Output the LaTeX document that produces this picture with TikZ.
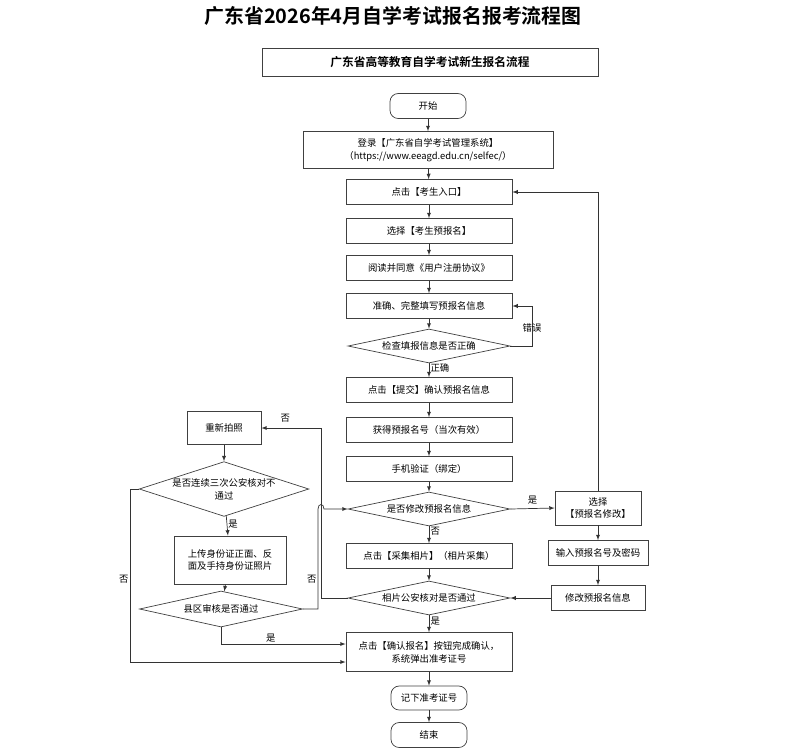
\documentclass[tikz,border=0pt]{standalone}
\usepackage{fontspec}
\setmainfont{Noto Sans CJK SC}
\newfontfamily\titlefont{Noto Sans CJK SC Bold}
\usetikzlibrary{shapes,arrows,positioning}

\tikzset{
    box/.style={draw=black!75, line width=0.6pt, minimum width=4.98cm, minimum height=0.75cm, inner sep=1pt, font=\fontsize{8}{11}\selectfont, align=center},
    term/.style={box, rounded corners=7pt, minimum width=2.28cm},
    decide/.style={draw=black!75, line width=0.6pt, diamond, aspect=4.8, inner sep=0pt, minimum width=4.86cm, minimum height=1.02cm, font=\fontsize{8}{11}\selectfont, align=center},
    flow/.style={-latex, line width=0.6pt, draw=black!80},
    lbl/.style={font=\fontsize{8}{10}\selectfont, inner sep=1pt}
}

\begin{document}
\begin{tikzpicture}[x=0.03cm, y=-0.03cm]
    \useasboundingbox (0,0) rectangle (786,750);

    % titles
    \node[font=\titlefont\fontsize{17}{20}\selectfont] (title) at (393,16) {广东省2026年4月自学考试报名报考流程图};
    \node[draw=black!75, line width=0.6pt, minimum width=10.08cm, minimum height=0.84cm, font=\titlefont\fontsize{10}{12}\selectfont] (head) at (430,62) {广东省高等教育自学考试新生报名流程};

    % main column
    \node[term] (start) at (428,106) {开始};
    \node[box, minimum width=7.5cm, minimum height=1.11cm] (login) at (428,150) {登录【广东省自学考试管理系统】\\（https://www.eeagd.edu.cn/selfec/）};
    \node[box] (entry) at (429,192) {点击【考生入口】};
    \node[box] (pre) at (429,231) {选择【考生预报名】};
    \node[box] (agree) at (429,268) {阅读并同意《用户注册协议》};
    \node[box] (fill) at (429,306) {准确、完整填写预报名信息};
    \node[decide] (check) at (429,346) {检查填报信息是否正确};
    \node[box] (submit) at (429,390) {点击【提交】确认预报名信息};
    \node[box] (getno) at (429,430) {获得预报名号（当次有效）};
    \node[box] (phone) at (429,469) {手机验证（绑定）};
    \node[decide] (modq) at (429,509) {是否修改预报名信息};
    \node[box] (photo) at (429,556) {点击【采集相片】（相片采集）};
    \node[decide] (police) at (429,598) {相片公安核对是否通过};
    \node[box, minimum height=1.17cm] (confirm) at (429,652) {点击【确认报名】按钮完成确认，\\系统弹出准考证号};
    \node[term, minimum height=0.72cm] (note) at (429,698) {记下准考证号};
    \node[term] (stop) at (429,735) {结束};

    % right column
    \node[box, minimum width=2.58cm, minimum height=1.02cm] (modsel) at (598,508) {选择\\【预报名修改】};
    \node[box, minimum width=3cm] (input) at (598,553) {输入预报名号及密码};
    \node[box, minimum width=2.82cm] (modify) at (598,598) {修改预报名信息};

    % left column
    \node[box, minimum width=2.22cm, minimum height=0.99cm] (retake) at (224,428) {重新拍照};
    \node[decide, aspect=3.1, minimum width=5.07cm, minimum height=1.62cm] (three) at (224,489) {是否连续三次公安核对不\\通过};
    \node[box, minimum width=3.36cm, minimum height=1.44cm] (upload) at (230,560) {上传身份证正面、反\\面及手持身份证照片};
    \node[decide, minimum width=4.89cm, minimum height=1.08cm] (county) at (221,609) {县区审核是否通过};

    % connectors, main column
    \draw[flow] (start) -- (login);
    \draw[flow] (login) -- (entry);
    \draw[flow] (entry) -- (pre);
    \draw[flow] (pre) -- (agree);
    \draw[flow] (agree) -- (fill);
    \draw[flow] (fill) -- (check);
    \draw[flow] (check) -- node[lbl, right, pos=0.35] {正确} (submit);
    \draw[flow] (check.east) -| (532,306) node[lbl, below=14pt] {错误} -- (fill.east);
    \draw[flow] (submit) -- (getno);
    \draw[flow] (getno) -- (phone);
    \draw[flow] (phone) -- (modq);
    \draw[flow] (modq) -- node[lbl, right, pos=0.3] {否} (photo);
    \draw[flow] (photo) -- (police);
    \draw[flow] (police) -- node[lbl, right, pos=0.35] {是} (confirm);
    \draw[flow] (confirm) -- (note);
    \draw[flow] (note) -- (stop);

    % right loop
    \draw[flow] (modq.east) -- node[lbl, above=2pt] {是} (modsel.west);
    \draw[flow] (modsel.north) |- (entry.east);
    \draw[flow] (modsel) -- (input);
    \draw[flow] (input) -- (modify);
    \draw[flow] (modify) -- (police.east);

    % left loop
    \draw[flow] (police.west) -| (321,428) -- node[lbl, above=4pt, pos=0.6] {否} (retake.east);
    \draw[flow] (retake) -- (three);
    \draw[flow] (three) -- node[lbl, right, pos=0.4] {是} (upload);
    \draw[flow] (upload) -- (county);
    \draw[flow] (county.east) -| node[lbl, left, pos=0.65] {否} (318,509)
        .. controls (318,503) and (324,503) .. (324,509) -- (modq.west);
    \draw[flow] (county.south) |- node[lbl, above, pos=0.7] {是} (confirm.west |- 0,644);
    \draw[flow] (three.west) -| node[lbl, left, pos=0.76] {否} (130,662) -- (confirm.west |- 0,662);
\end{tikzpicture}
\end{document}
